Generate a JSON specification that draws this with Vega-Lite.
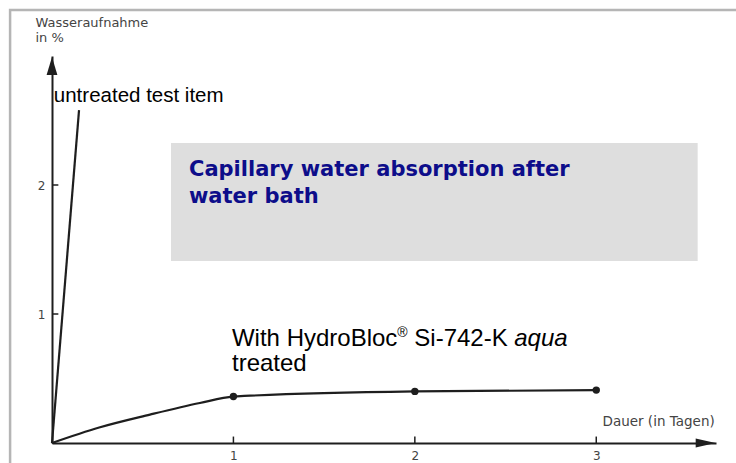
{
  "$schema": "https://vega.github.io/schema/vega-lite/v6.json",
  "width": 664,
  "height": 387,
  "autosize": {"type": "none"},
  "padding": {"left": 52, "top": 56, "right": 20, "bottom": 20},
  "background": "white",
  "config": {"view": {"stroke": null}},
  "datasets": {
    "frame": [{"x": -0.231, "x2": 3.80, "y": -0.2, "y2": 3.357}],
    "box": [{"x": 0.656, "x2": 3.559, "y": 1.411, "y2": 2.326}],
    "untreated": [
      {"day": 0, "value": 0},
      {"day": 0.149, "value": 2.58}
    ],
    "treated": [
      {"day": 0, "value": 0},
      {"day": 0.26, "value": 0.12},
      {"day": 0.54, "value": 0.22},
      {"day": 0.815, "value": 0.31},
      {"day": 1, "value": 0.36},
      {"day": 2, "value": 0.40},
      {"day": 3, "value": 0.41}
    ],
    "measured": [
      {"day": 1, "value": 0.36},
      {"day": 2, "value": 0.40},
      {"day": 3, "value": 0.41}
    ],
    "ticksX": [{"day": 1, "y0": 0, "y1": 0.05}, {"day": 2, "y0": 0, "y1": 0.05}, {"day": 3, "y0": 0, "y1": 0.05}],
    "ticksY": [{"value": 1, "x0": 0, "x1": 0.035}, {"value": 2, "x0": 0, "x1": 0.035}],
    "arrowX": [{"day": 3.603, "value": 0}],
    "arrowY": [{"day": 0, "value": 2.922}],
    "titleText": [{"day": 0.755, "value": 2.07, "label": ["Capillary water absorption after", "water bath"]}],
    "untreatedLabel": [{"day": 0.01, "value": 2.643, "label": "untreated test item"}],
    "treatedLabel": [
      {"day": 0.992, "value": 0.752, "label": "With HydroBloc"},
      {"day": 1.997, "value": 0.752, "label": "Si-742-K"},
      {"day": 0.992, "value": 0.558, "label": "treated"}
    ],
    "regMark": [{"day": 1.903, "value": 0.822, "label": "®"}],
    "aquaLabel": [{"day": 2.548, "value": 0.752, "label": "aqua"}]
  },
  "layer": [
    {
      "data": {"name": "frame"},
      "mark": {"type": "rect", "fill": null, "stroke": "#b5b5b5", "strokeWidth": 2.5},
      "encoding": {
        "x": {
          "field": "x", "type": "quantitative",
          "scale": {"domain": [0, 3.66], "nice": false, "zero": false},
          "axis": {
            "values": [1, 2, 3],
            "format": "d",
            "grid": false,
            "ticks": false,
            "domainColor": "#1e1e1e", "domainWidth": 2,
            "labelPadding": 7,
            "labelFont": "DejaVu Sans", "labelFontSize": 12, "labelColor": "#444",
            "title": "Dauer (in Tagen)",
            "titleFont": "DejaVu Sans", "titleFontSize": 13.5, "titleFontWeight": "normal", "titleColor": "#444",
            "titleAnchor": "start", "titleAlign": "left", "titleBaseline": "alphabetic",
            "titleX": 550, "titleY": -18
          }
        },
        "x2": {"field": "x2"},
        "y": {
          "field": "y", "type": "quantitative",
          "scale": {"domain": [0, 3], "nice": false, "zero": false},
          "axis": {
            "values": [1, 2],
            "format": "d",
            "grid": false,
            "ticks": false,
            "domainColor": "#1e1e1e", "domainWidth": 2,
            "labelPadding": 7,
            "labelFont": "DejaVu Sans", "labelFontSize": 12, "labelColor": "#444",
            "title": ["Wasseraufnahme", "in %"],
            "titleFont": "DejaVu Sans", "titleFontSize": 13, "titleFontWeight": "normal", "titleColor": "#444",
            "titleAngle": 0, "titleAlign": "left", "titleBaseline": "alphabetic", "titleLineHeight": 15,
            "titleX": -17, "titleY": -30
          }
        },
        "y2": {"field": "y2"}
      }
    },
    {
      "data": {"name": "box"},
      "mark": {"type": "rect", "fill": "#dedede"},
      "encoding": {
        "x": {"field": "x", "type": "quantitative"},
        "x2": {"field": "x2"},
        "y": {"field": "y", "type": "quantitative"},
        "y2": {"field": "y2"}
      }
    },
    {
      "data": {"name": "ticksX"},
      "mark": {"type": "rule", "color": "#1e1e1e", "strokeWidth": 1.5},
      "encoding": {
        "x": {"field": "day", "type": "quantitative"},
        "y": {"field": "y0", "type": "quantitative"},
        "y2": {"field": "y1"}
      }
    },
    {
      "data": {"name": "ticksY"},
      "mark": {"type": "rule", "color": "#1e1e1e", "strokeWidth": 1.5},
      "encoding": {
        "y": {"field": "value", "type": "quantitative"},
        "x": {"field": "x0", "type": "quantitative"},
        "x2": {"field": "x1"}
      }
    },
    {
      "data": {"name": "untreated"},
      "mark": {"type": "line", "color": "#1e1e1e", "strokeWidth": 2.2},
      "encoding": {
        "x": {"field": "day", "type": "quantitative"},
        "y": {"field": "value", "type": "quantitative"}
      }
    },
    {
      "data": {"name": "treated"},
      "mark": {"type": "line", "color": "#1e1e1e", "strokeWidth": 2.2, "interpolate": "monotone"},
      "encoding": {
        "x": {"field": "day", "type": "quantitative"},
        "y": {"field": "value", "type": "quantitative"}
      }
    },
    {
      "data": {"name": "measured"},
      "mark": {"type": "point", "filled": true, "color": "#1e1e1e", "opacity": 1, "size": 55},
      "encoding": {
        "x": {"field": "day", "type": "quantitative"},
        "y": {"field": "value", "type": "quantitative"}
      }
    },
    {
      "data": {"name": "arrowX"},
      "mark": {"type": "point", "filled": true, "color": "#1e1e1e", "opacity": 1, "size": 400, "shape": "M -1 -0.45 L 1 0 L -1 0.45 Z"},
      "encoding": {
        "x": {"field": "day", "type": "quantitative"},
        "y": {"field": "value", "type": "quantitative"}
      }
    },
    {
      "data": {"name": "arrowY"},
      "mark": {"type": "point", "filled": true, "color": "#1e1e1e", "opacity": 1, "size": 324, "shape": "M -0.6 1 L 0 -1 L 0.6 1 Z"},
      "encoding": {
        "x": {"field": "day", "type": "quantitative"},
        "y": {"field": "value", "type": "quantitative"}
      }
    },
    {
      "data": {"name": "titleText"},
      "mark": {"type": "text", "align": "left", "baseline": "alphabetic", "font": "DejaVu Sans", "fontWeight": "bold", "fontSize": 21, "lineHeight": 27, "color": "#0d0d8a"},
      "encoding": {
        "x": {"field": "day", "type": "quantitative"},
        "y": {"field": "value", "type": "quantitative"},
        "text": {"field": "label"}
      }
    },
    {
      "data": {"name": "untreatedLabel"},
      "mark": {"type": "text", "align": "left", "baseline": "alphabetic", "font": "Liberation Sans", "fontSize": 20.5, "color": "#000"},
      "encoding": {
        "x": {"field": "day", "type": "quantitative"},
        "y": {"field": "value", "type": "quantitative"},
        "text": {"field": "label"}
      }
    },
    {
      "data": {"name": "treatedLabel"},
      "mark": {"type": "text", "align": "left", "baseline": "alphabetic", "font": "Liberation Sans", "fontSize": 24, "color": "#000"},
      "encoding": {
        "x": {"field": "day", "type": "quantitative"},
        "y": {"field": "value", "type": "quantitative"},
        "text": {"field": "label"}
      }
    },
    {
      "data": {"name": "regMark"},
      "mark": {"type": "text", "align": "left", "baseline": "alphabetic", "font": "Liberation Sans", "fontSize": 14, "color": "#000"},
      "encoding": {
        "x": {"field": "day", "type": "quantitative"},
        "y": {"field": "value", "type": "quantitative"},
        "text": {"field": "label"}
      }
    },
    {
      "data": {"name": "aquaLabel"},
      "mark": {"type": "text", "align": "left", "baseline": "alphabetic", "font": "Liberation Sans", "fontSize": 24, "fontStyle": "italic", "color": "#000"},
      "encoding": {
        "x": {"field": "day", "type": "quantitative"},
        "y": {"field": "value", "type": "quantitative"},
        "text": {"field": "label"}
      }
    }
  ]
}
